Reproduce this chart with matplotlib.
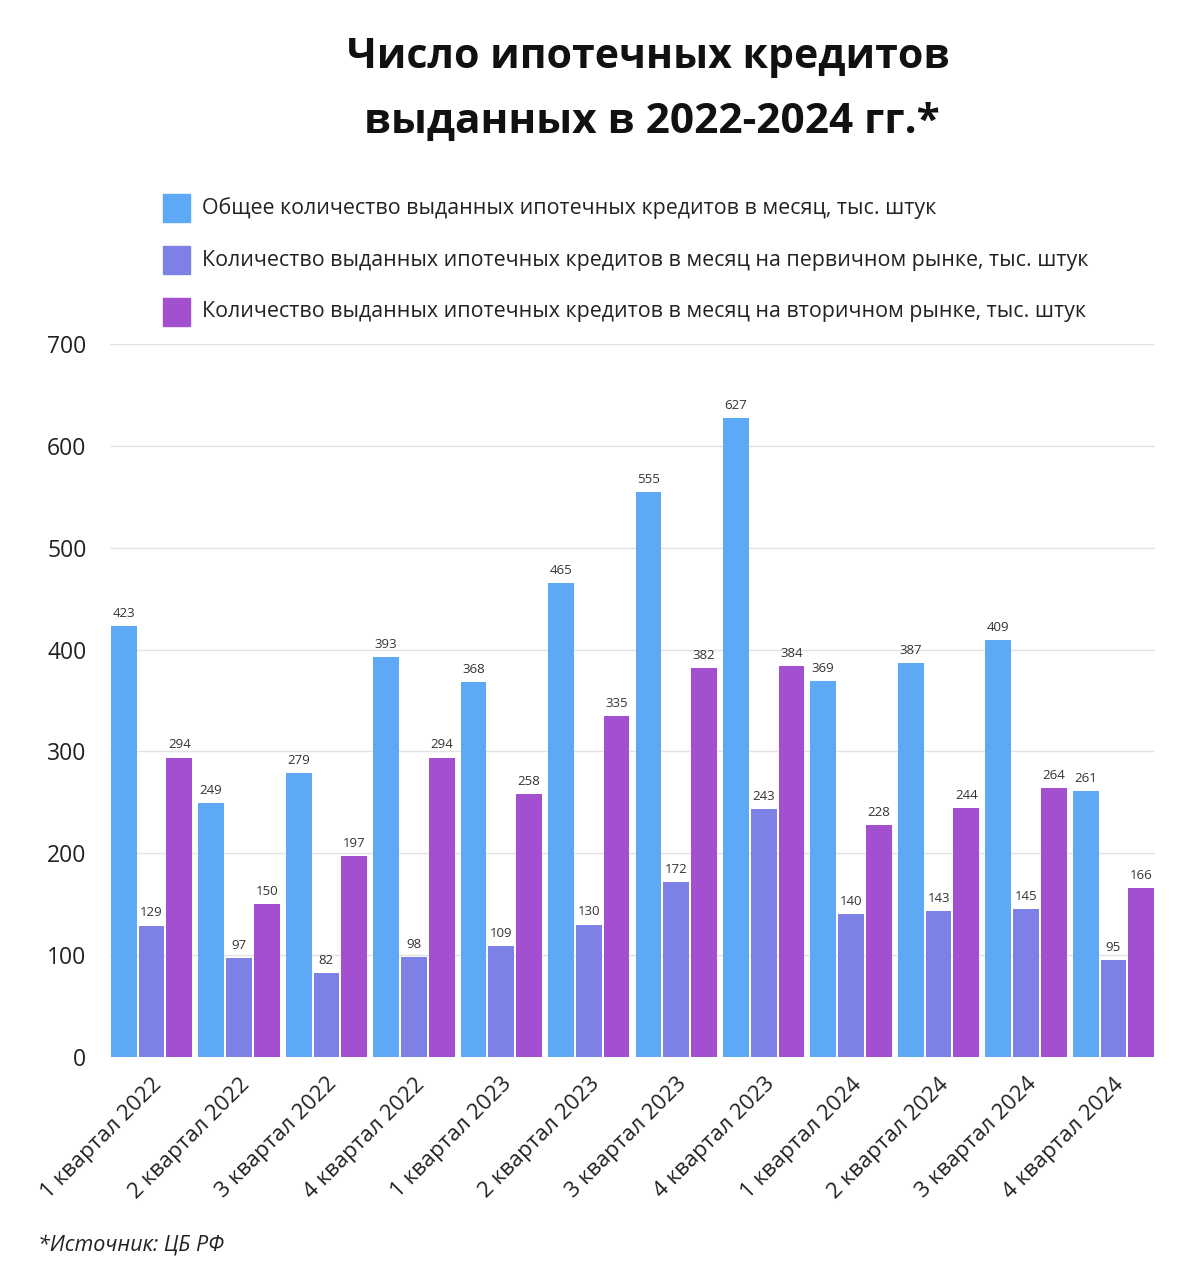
import matplotlib
matplotlib.use("Agg")
import matplotlib.pyplot as plt
from matplotlib.patches import Rectangle
import numpy as np

plt.rcParams['font.family'] = ['Open Sans', 'Noto Sans', 'DejaVu Sans']

categories = ["1 квартал 2022", "2 квартал 2022", "3 квартал 2022", "4 квартал 2022",
              "1 квартал 2023", "2 квартал 2023", "3 квартал 2023", "4 квартал 2023",
              "1 квартал 2024", "2 квартал 2024", "3 квартал 2024", "4 квартал 2024"]
total = [423, 249, 279, 393, 368, 465, 555, 627, 369, 387, 409, 261]
primary = [129, 97, 82, 98, 109, 130, 172, 243, 140, 143, 145, 95]
secondary = [294, 150, 197, 294, 258, 335, 382, 384, 228, 244, 264, 166]
series_names = ["Общее количество выданных ипотечных кредитов в месяц, тыс. штук",
                "Количество выданных ипотечных кредитов в месяц на первичном рынке, тыс. штук",
                "Количество выданных ипотечных кредитов в месяц на вторичном рынке, тыс. штук"]
colors = ["#5DA9F6", "#7D80E5", "#A24FD0"]
title_lines = ["Число ипотечных кредитов", "выданных в 2022-2024 гг.*"]
source = "*Источник: ЦБ РФ"

W, H = 1180, 1283
fig = plt.figure(figsize=(W / 100, H / 100), dpi=100)
ax = fig.add_axes([110 / W, 1 - 1057 / H, (1155 - 110) / W, (1057 - 344) / H])

x = np.arange(len(categories))
w = 0.295
step = 0.318
for k, (vals, c) in enumerate(zip([total, primary, secondary], colors)):
    pos = x + (k - 1) * step
    ax.bar(pos, vals, width=w, color=c, zorder=3)
    for p, v in zip(pos, vals):
        ax.text(p, v + 6, str(v), ha='center', va='bottom', fontsize=9.5, color='#333333', zorder=4)

ax.set_xlim(-0.475, 11.475)
ax.set_ylim(0, 700)
ax.set_yticks(range(0, 701, 100))
ax.yaxis.grid(True, color='#e3e3e3', linewidth=1, zorder=0)
ax.set_axisbelow(True)
for s in ax.spines.values():
    s.set_visible(False)
ax.tick_params(axis='both', length=0)
ax.tick_params(axis='y', labelsize=16.5, pad=17, labelcolor='#222222')
ax.set_xticks(x)
ax.set_xticklabels(categories, rotation=45, ha='right', rotation_mode='anchor',
                   fontsize=16, color='#222222')
ax.tick_params(axis='x', pad=12)

fig.text(648 / W, 1 - 57 / H, title_lines[0], ha='center', va='center', fontsize=29.5,
         fontweight='bold', color='#111111')
fig.text(652 / W, 1 - 122 / H, title_lines[1], ha='center', va='center', fontsize=30.5,
         fontweight='bold', color='#111111')

rows = [208, 260, 312]
for name, c, yy in zip(series_names, colors, rows):
    fig.add_artist(Rectangle((163 / W, 1 - (yy + 14) / H), 27 / W, 28 / H,
                             transform=fig.transFigure, color=c))
    fig.text(202 / W, 1 - yy / H, name, ha='left', va='center', fontsize=15.4, color='#222222')

fig.text(38 / W, 1 - 1245 / H, source, ha='left', va='center', fontsize=15.5,
         style='italic', color='#222222')

fig.savefig("out.png", dpi=100, facecolor='white')
